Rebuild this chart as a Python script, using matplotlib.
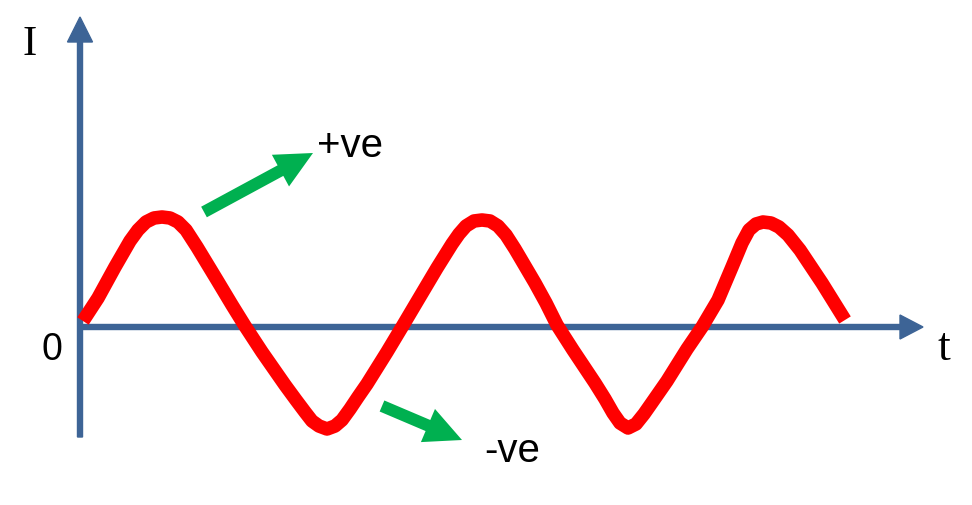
import numpy as np
from matplotlib import pyplot as plt

# current waveform (t arbitrary units, I in units of the peak)
t = [0.03, 0.18, 0.35, 0.50, 0.58, 0.66, 0.74, 0.82, 0.90, 0.98, 1.06, 1.17, 1.37,
     1.52, 1.65, 1.82, 2.05, 2.16, 2.25, 2.32, 2.39, 2.47, 2.55, 2.62, 2.70, 2.78,
     2.87, 3.07, 3.22, 3.38, 3.57, 3.72, 3.79, 3.86, 3.94, 4.02, 4.10, 4.18, 4.26,
     4.35, 4.55, 4.66, 4.77, 4.93, 5.15, 5.25, 5.33, 5.40, 5.48, 5.56, 5.64, 5.71,
     5.87, 6.07, 6.22, 6.38, 6.52, 6.62, 6.69, 6.76, 6.83, 6.91, 6.99, 7.08, 7.20,
     7.42, 7.65]
current = [0.06, 0.29, 0.60, 0.86, 0.97, 1.05, 1.09, 1.10, 1.09, 1.05, 0.97, 0.80, 0.47,
           0.22, 0.01, -0.25, -0.58, -0.73, -0.85, -0.94, -0.99, -1.02, -0.99, -0.93, -0.82, -0.70,
           -0.57, -0.25, 0.00, 0.27, 0.59, 0.83, 0.93, 1.01, 1.06, 1.07, 1.06, 1.01, 0.92,
           0.78, 0.44, 0.24, 0.02, -0.23, -0.56, -0.72, -0.86, -0.96, -1.01, -0.97, -0.87, -0.77,
           -0.54, -0.22, 0.00, 0.27, 0.60, 0.84, 0.97, 1.03, 1.05, 1.04, 1.00, 0.92, 0.77,
           0.44, 0.07]

axis_color = '#3d6496'
green = '#00b050'

fig = plt.figure(figsize=(9.72, 5.05), dpi=100)
ax = fig.add_axes([0, 0, 1, 1])
ax.set_xlim(-0.8, 8.92)
ax.set_ylim(-1.78, 3.27)
ax.axis('off')

# axes with arrow heads
ax.arrow(0, -1.10, 0, 4.20, width=0.05, head_width=0.25, head_length=0.25,
         length_includes_head=True, color=axis_color, zorder=1)
ax.arrow(-0.02, 0, 8.45, 0, width=0.05, head_width=0.24, head_length=0.23,
         length_includes_head=True, color=axis_color, zorder=1)

line, = ax.plot(t, current, color='#ff0000', lw=9.8, zorder=2)
line.set_solid_joinstyle('round')
line.set_solid_capstyle('butt')

# +ve / -ve arrows
ax.arrow(1.24, 1.15, 1.09, 0.59, width=0.12, head_width=0.36, head_length=0.37,
         length_includes_head=True, color=green, lw=0, zorder=3)
ax.arrow(3.02, -0.79, 0.80, -0.34, width=0.12, head_width=0.36, head_length=0.37,
         length_includes_head=True, color=green, lw=0, zorder=3)

ax.text(-0.50, 2.72, 'I', family='Liberation Serif', fontsize=31, ha='center', va='baseline')
ax.text(8.64, -0.33, 't', family='Liberation Serif', fontsize=33, ha='center', va='baseline')
ax.text(-0.28, -0.33, '0', family='Liberation Sans', fontsize=27, ha='center', va='baseline')
ax.text(2.37, 1.70, '+ve', family='Liberation Sans', fontsize=29, ha='left', va='baseline')
ax.text(4.04, -1.35, '-ve', family='Liberation Sans', fontsize=29, ha='left', va='baseline')

fig.savefig('out.png', dpi=100)
